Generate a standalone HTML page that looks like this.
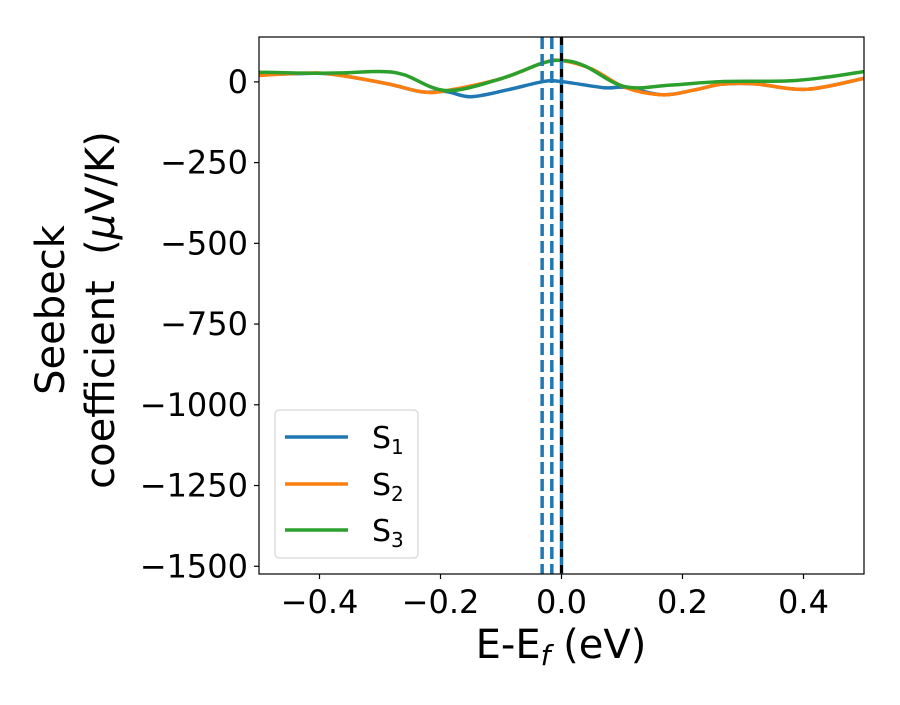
<!DOCTYPE html>
<html><head><meta charset="utf-8"><style>
body{margin:0;background:#fff;}
svg text{font-family:"DejaVu Sans","Liberation Sans",sans-serif;}
</style></head><body>
<svg id="chart" width="900" height="700" viewBox="0 0 900 700">
<g id="plot"></g>
<g id="axes"></g>
<text x="561" y="658" text-anchor="middle" font-size="40">E-E<tspan font-style="italic" font-size="28" dy="7">f</tspan><tspan dy="-7"> (eV)</tspan></text>
<g transform="translate(64,310) rotate(-90)">
<text x="0" y="0" text-anchor="middle" font-size="40">Seebeck</text>
<text x="0" y="50" text-anchor="middle" font-size="40">coefficient&#160; (<tspan font-style="italic">μ</tspan>V/K)</text>
</g>
<g>
<rect x="275" y="410" width="143" height="148" rx="4" fill="#fff" fill-opacity="0.8" stroke="#ccc"/>
<line x1="285" x2="348" y1="437" y2="437" stroke="#1f77b4" stroke-width="3.5"/>
<text x="372" y="448" font-size="30">S<tspan font-size="20" dy="6">1</tspan></text>
<line x1="285" x2="348" y1="484" y2="484" stroke="#ff7f0e" stroke-width="3.5"/>
<text x="372" y="495" font-size="30">S<tspan font-size="20" dy="6">2</tspan></text>
<line x1="285" x2="348" y1="530" y2="530" stroke="#2ca02c" stroke-width="3.5"/>
<text x="372" y="541" font-size="30">S<tspan font-size="20" dy="6">3</tspan></text>
</g>
</svg>
<script>
const xS1=[-0.5,-0.425,-0.38,-0.29,-0.23,-0.19,-0.15,-0.09,-0.03,0.0,0.07,0.105,0.167,0.22,0.265,0.32,0.405,0.5];
const yS1=[22,26,24,-5,-31,-30,-46,-25,1,1,-18,-17,-40,-25,-7,-6,-23,11];
const xS2=[-0.5,-0.425,-0.38,-0.29,-0.23,-0.19,-0.1,-0.03,0.0,0.05,0.105,0.167,0.22,0.265,0.32,0.405,0.5];
const yS2=[20,27,24,-5,-31,-27,10,59,66,40,-17,-40,-25,-7,-6,-23,11];
const xS3=[-0.5,-0.425,-0.36,-0.3,-0.26,-0.19,-0.1,-0.03,0.005,0.04,0.105,0.18,0.265,0.375,0.44,0.5];
const yS3=[30,27,28,32,22,-27,10,59,66,48,-15,-10,1,3,15,32];
const vLines=[-0.032,-0.016,0.0];
const xTicks=[-0.4,-0.2,0.0,0.2,0.4];
const xTickLabels=["−0.4","−0.2","0.0","0.2","0.4"];
const yTicks=[0,-250,-500,-750,-1000,-1250,-1500];
const yTickLabels=["0","−250","−500","−750","−1000","−1250","−1500"];
const L=259,R=864,T=37,B=574;
const xmin=-0.5,xmax=0.5,ymin=-1524,ymax=139;
const sx=v=>L+(v-xmin)/(xmax-xmin)*(R-L);
const sy=v=>B-(v-ymin)/(ymax-ymin)*(B-T);
const NS="http://www.w3.org/2000/svg";
const svg=document.getElementById('chart');
const g=document.getElementById('plot');
const ax=document.getElementById('axes');
function mk(t,a,p){const e=document.createElementNS(NS,t);for(const k in a)e.setAttribute(k,a[k]);(p||svg).appendChild(e);return e;}
function path(xs,ys){const p=xs.map((x,i)=>[sx(x),sy(ys[i])]);let d=`M${p[0][0]},${p[0][1]}`;
for(let i=0;i<p.length-1;i++){const p0=p[Math.max(0,i-1)],p1=p[i],p2=p[i+1],p3=p[Math.min(p.length-1,i+2)];
d+=` C${p1[0]+(p2[0]-p0[0])/6},${p1[1]+(p2[1]-p0[1])/6} ${p2[0]-(p3[0]-p1[0])/6},${p2[1]-(p3[1]-p1[1])/6} ${p2[0]},${p2[1]}`;}return d;}
const cp=mk('clipPath',{id:'cp'});mk('rect',{x:L,y:T,width:R-L,height:B-T},cp);
const series=[[xS1,yS1,'#1f77b4','series-s1'],[xS2,yS2,'#ff7f0e','series-s2'],[xS3,yS3,'#2ca02c','series-s3']];
series.forEach(s=>{const e=mk('path',{d:path(s[0],s[1]),fill:'none',stroke:s[2],'stroke-width':3.5,'clip-path':'url(#cp)'},g);

});
vLines.forEach((v,i)=>{const e=mk('line',{x1:sx(v),x2:sx(v),y1:T,y2:B,stroke:'#1f77b4','stroke-width':3.5,'stroke-dasharray':i<2?'12,5':'none'},g);

});
const ef=mk('line',{x1:sx(0),x2:sx(0),y1:T,y2:B,stroke:'#000','stroke-width':3,'stroke-dasharray':'8,8'},g);


const fr=mk('rect',{x:L,y:T,width:R-L,height:B-T,fill:'none',stroke:'#000','stroke-width':1.2},ax);


xTicks.forEach((v,i)=>{mk('line',{x1:sx(v),x2:sx(v),y1:B,y2:B+5,stroke:'#000','stroke-width':1.2},ax);
const t=mk('text',{x:sx(v),y:B+39,'text-anchor':'middle','font-size':32},ax);t.textContent=xTickLabels[i];

});
yTicks.forEach((v,i)=>{mk('line',{x1:L-5,x2:L,y1:sy(v),y2:sy(v),stroke:'#000','stroke-width':1.2},ax);
const t=mk('text',{x:L-11,y:sy(v)+11,'text-anchor':'end','font-size':32},ax);t.textContent=yTickLabels[i];

});
</script>
</body></html>
